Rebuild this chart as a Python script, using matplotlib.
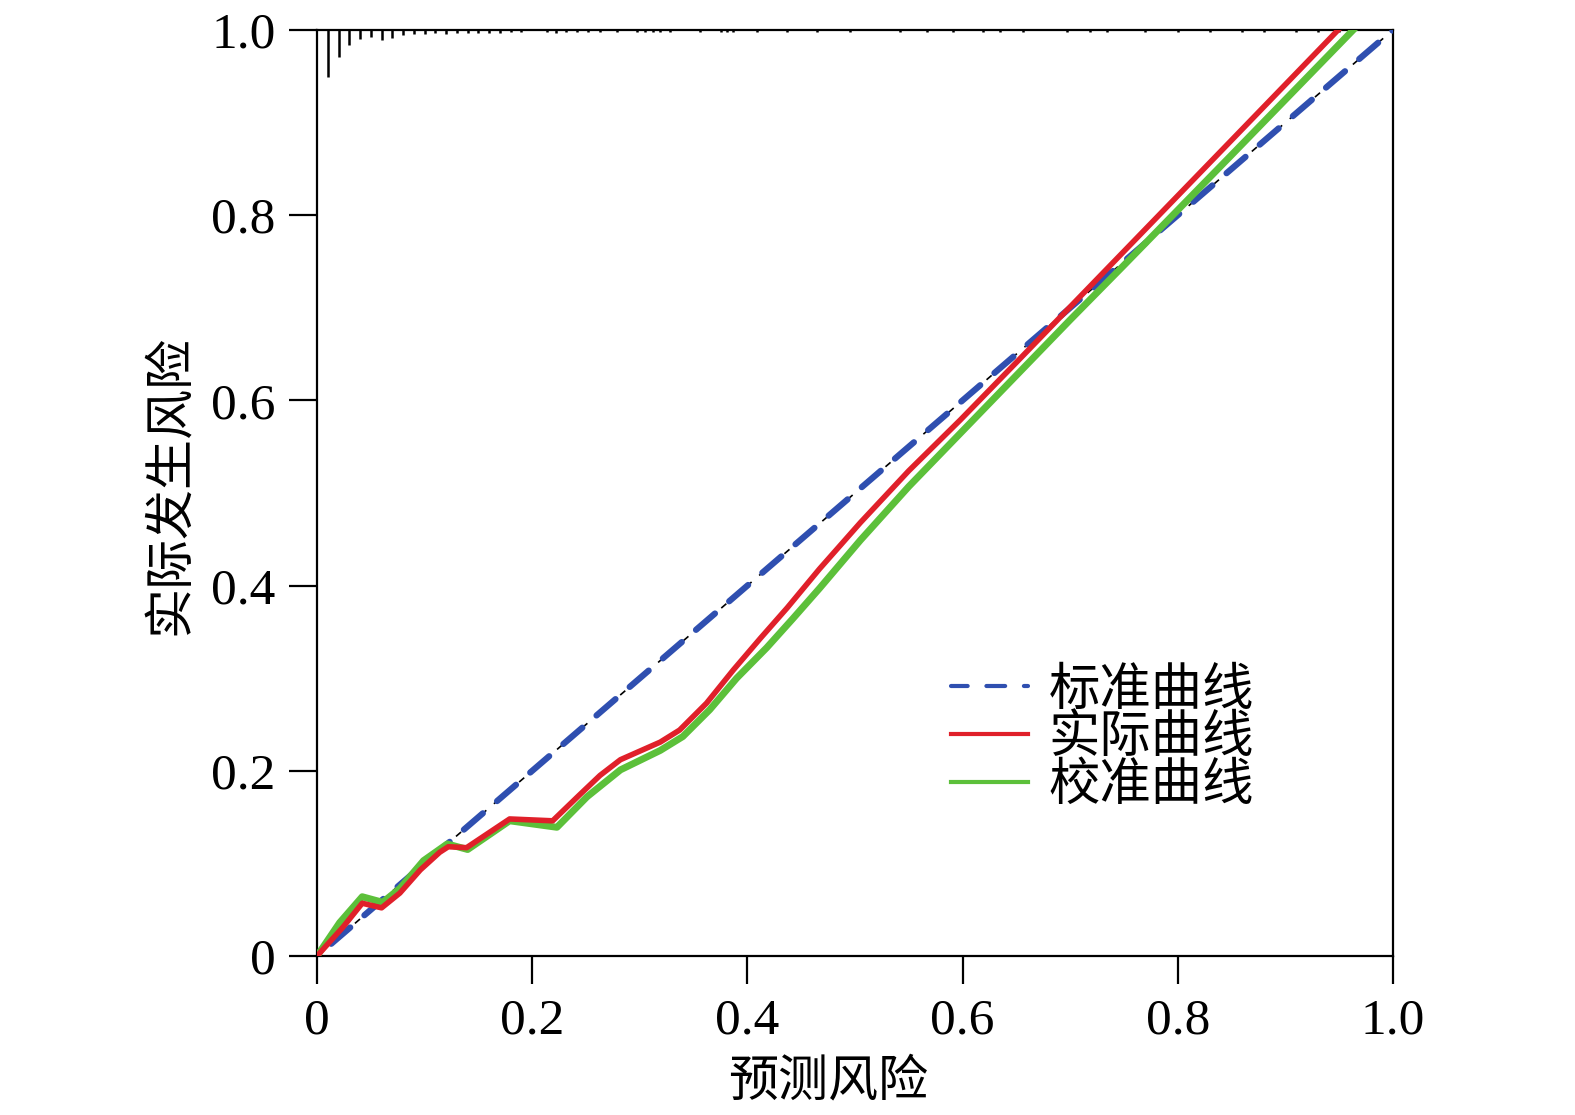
import numpy as np
import matplotlib
matplotlib.use('Agg')
import matplotlib.pyplot as plt

plt.rcParams['font.family'] = ['Liberation Serif', 'Noto Sans CJK SC']

# ideal / apparent / bias-corrected calibration curves
ideal_x = [0.0, 1.0]
ideal_y = [0.0, 1.0]

apparent_x = [0.0, 0.024, 0.042, 0.060, 0.077, 0.096, 0.114, 0.122, 0.139, 0.179, 0.219,
              0.244, 0.263, 0.282, 0.319, 0.337, 0.362, 0.387, 0.412, 0.437, 0.467,
              0.505, 0.55, 0.598, 0.65, 0.75, 0.85, 0.949]
apparent_y = [0.0, 0.031, 0.057, 0.052, 0.068, 0.093, 0.112, 0.118, 0.117, 0.148, 0.146,
              0.174, 0.195, 0.212, 0.231, 0.244, 0.273, 0.309, 0.343, 0.376, 0.418,
              0.468, 0.524, 0.579, 0.641, 0.761, 0.881, 1.0]

corrected_x = [0.0, 0.021, 0.042, 0.061, 0.077, 0.099, 0.121, 0.140, 0.179, 0.223,
               0.251, 0.282, 0.319, 0.340, 0.365, 0.390, 0.418, 0.442, 0.467,
               0.505, 0.55, 0.61, 0.65, 0.70, 0.75, 0.85, 0.963]
corrected_y = [0.0, 0.036, 0.064, 0.058, 0.073, 0.103, 0.121, 0.115, 0.146, 0.139,
               0.172, 0.201, 0.222, 0.237, 0.266, 0.300, 0.333, 0.364, 0.397,
               0.449, 0.507, 0.579, 0.627, 0.687, 0.746, 0.865, 1.0]

# spike histogram of predicted risk along the top
rug_x = [0.01, 0.02, 0.03, 0.04, 0.05, 0.06, 0.07, 0.08, 0.09, 0.10, 0.11, 0.12, 0.13,
         0.14, 0.15, 0.16, 0.17, 0.18, 0.19, 0.214, 0.222, 0.231, 0.242, 0.252, 0.263,
         0.279, 0.297, 0.305, 0.312, 0.319, 0.328, 0.356, 0.375, 0.381, 0.387, 0.409,
         0.437, 0.465, 0.495, 0.542, 0.567, 0.591, 0.619, 0.635, 0.656, 0.697, 0.718,
         0.734, 0.77, 0.80, 0.83, 0.86, 0.88, 0.91, 0.93, 0.95]
rug_h = [0.051, 0.029, 0.016, 0.010, 0.008, 0.011, 0.009, 0.005, 0.004, 0.004, 0.003,
         0.004, 0.003, 0.003, 0.003, 0.003, 0.003, 0.002, 0.002, 0.002, 0.003, 0.002,
         0.002, 0.002, 0.002, 0.002, 0.002, 0.002, 0.002, 0.002, 0.002, 0.002, 0.002,
         0.002, 0.002, 0.002, 0.002, 0.002, 0.002, 0.002, 0.002, 0.002, 0.002, 0.002,
         0.002, 0.002, 0.002, 0.002, 0.002, 0.002, 0.002, 0.002, 0.002, 0.002, 0.002,
         0.002]

ticks = [0, 0.2, 0.4, 0.6, 0.8, 1.0]
tick_labels = ['0', '0.2', '0.4', '0.6', '0.8', '1.0']

fig = plt.figure(figsize=(15.75, 11.15), dpi=100)
ax = fig.add_axes([0.2013, 0.1426, 0.6831, 0.8305])

ax.vlines(rug_x, 1.0 - np.array(rug_h), 1.0, color='black', lw=1.8, zorder=2)

ax.plot(ideal_x, ideal_y, color='black', lw=1.2, ls=(0, (4, 6)), zorder=3)
ax.plot(ideal_x, ideal_y, color='#2f4fb0', lw=4.5, ls=(4, (4, 3)),
        solid_capstyle='round', dash_capstyle='round', zorder=4, label='标准曲线')
ax.plot(apparent_x, apparent_y, color='#e0202a', lw=4.0, zorder=5, label='实际曲线')
ax.plot(corrected_x, corrected_y, color='#5cc03a', lw=5.0, zorder=4.5, label='校准曲线')

ax.set_xlim(0, 1)
ax.set_ylim(0, 1)
ax.set_xticks(ticks)
ax.set_xticklabels(tick_labels)
ax.set_yticks(ticks)
ax.set_yticklabels(tick_labels)
ax.tick_params(direction='out', length=20, width=1.6, labelsize=37, pad=10)
for s in ax.spines.values():
    s.set_linewidth(1.6)

ax.set_xlabel('预测风险', fontsize=36)
ax.set_ylabel('实际发生风险', fontsize=36)
ax.xaxis.set_label_coords(0.475, -0.112)
ax.yaxis.set_label_coords(-0.113, 0.509)

leg = ax.legend(loc='upper left', bbox_to_anchor=(0.57, 0.333), frameon=False,
                fontsize=37, handlelength=1.5, handletextpad=0.4, labelspacing=0.0,
                borderaxespad=0)
for h in leg.get_lines():
    h.set_linewidth(3.0)
leg.get_lines()[0].set_linestyle((0.5, (4.5, 4.5)))

fig.savefig('out.png', dpi=100)
